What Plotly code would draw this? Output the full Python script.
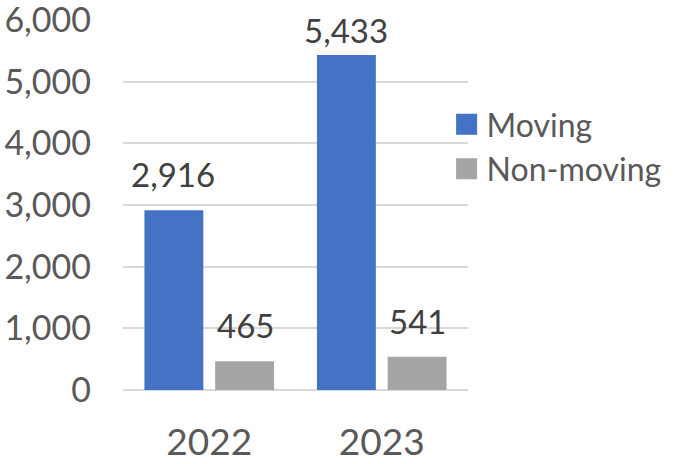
import plotly.graph_objects as go

years = ["2022", "2023"]
moving = [2916, 5433]
non_moving = [465, 541]
series_names = ["Moving", "Non-moving"]
colors = ["#4472C4", "#A5A5A5"]
y_ticks = [0, 1000, 2000, 3000, 4000, 5000, 6000]

FONT = "Lato"
Y_MAX = 6000
PLOT_H = 464 - 20 - 74
px_per_unit = PLOT_H / Y_MAX

fig = go.Figure()
for name, vals, col in zip(series_names, [moving, non_moving], colors):
    fig.add_trace(go.Bar(x=years, y=vals, name=name, marker=dict(color=col, line=dict(width=0)),
                         showlegend=False))
for name, col in zip(series_names, colors):
    # legend proxies with larger square symbols
    fig.add_trace(go.Scatter(x=[years[0]], y=[None], mode="markers", name=name,
                             marker=dict(symbol="square", size=16, color=col,
                                         line=dict(width=5, color=col))))

# data labels (x given as category index); labels are kept inside the plot area
slot_shift = 36
for vals, sh in zip([moving, non_moving], [-slot_shift, slot_shift]):
    for i, yv in enumerate(vals):
        room = (Y_MAX - yv) * px_per_unit
        ys = min(14, room - 32)
        fig.add_annotation(x=i, y=yv, xref="x", yref="y", text=f"{yv:,}", showarrow=False,
                           xshift=sh, yanchor="bottom", yshift=ys,
                           font=dict(family=FONT, size=33, color="#404040"))

fig.update_layout(
    width=679, height=464,
    margin=dict(l=123, r=204, t=20, b=74),
    paper_bgcolor="white", plot_bgcolor="white",
    barmode="group", bargap=0.18, bargroupgap=0.167,
    font=dict(family=FONT, color="#595959"),
    legend=dict(x=0.938, y=0.792, xanchor="left", yanchor="top",
                font=dict(family=FONT, size=32, color="#595959"),
                bgcolor="rgba(0,0,0,0)", tracegroupgap=0, itemsizing="trace"),
    showlegend=True,
)
fig.update_xaxes(type="category", categoryorder="array", categoryarray=years, range=[-0.5, 1.5],
                 showgrid=False, showline=False, ticks="", zeroline=False, automargin=False,
                 tickfont=dict(family=FONT, size=37, color="#595959"), ticklabelstandoff=27)
fig.update_yaxes(range=[0, Y_MAX], tickvals=y_ticks, tickformat=",", automargin=False,
                 showgrid=True, gridcolor="#D9D9D9", gridwidth=1.5,
                 zeroline=True, zerolinecolor="#D9D9D9", zerolinewidth=1.5,
                 showline=False, ticks="", ticklabelstandoff=31, ticklabeloverflow="allow",
                 tickfont=dict(family=FONT, size=34, color="#595959"))

fig.write_html("out.html")
